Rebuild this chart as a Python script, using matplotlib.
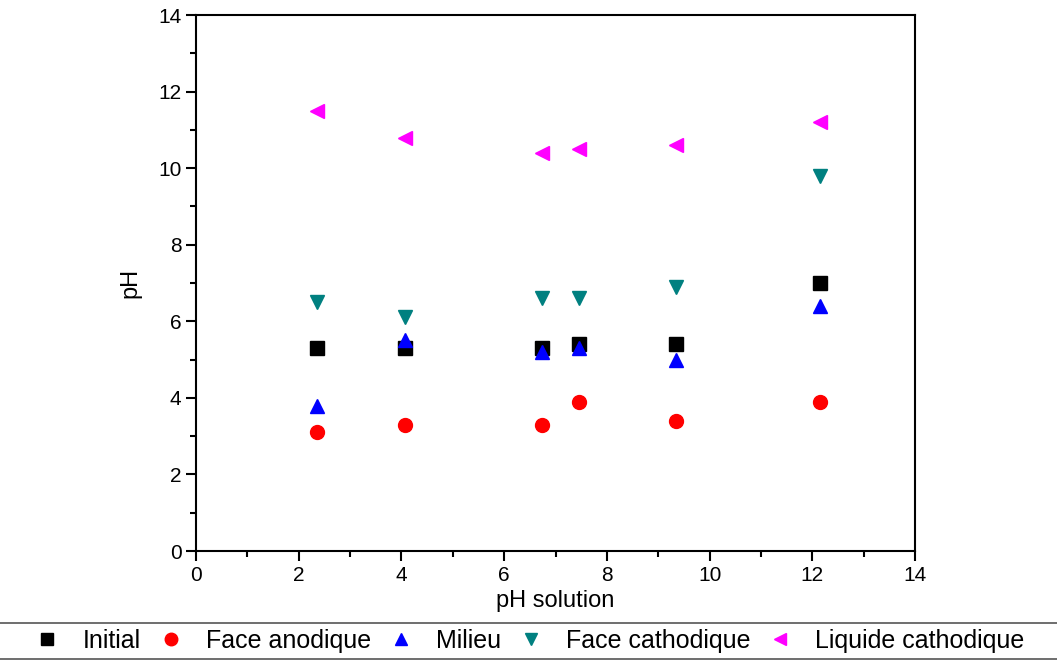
import matplotlib
matplotlib.use("Agg")
import matplotlib.pyplot as plt
from matplotlib.lines import Line2D

plt.rcParams['font.family'] = ['Liberation Sans', 'DejaVu Sans']

# pH of the solution (x)
ph_solution = [2.36, 4.07, 6.74, 7.46, 9.35, 12.15]

# measured pH per location
initial = [5.3, 5.3, 5.3, 5.4, 5.4, 7.0]
face_anodique = [3.1, 3.3, 3.3, 3.9, 3.4, 3.9]
milieu = [3.8, 5.5, 5.2, 5.3, 5.0, 6.4]
face_cathodique = [6.5, 6.1, 6.6, 6.6, 6.9, 9.8]
liquide_cathodique = [11.5, 10.8, 10.4, 10.5, 10.6, 11.2]

labels = ["Initial", "Face anodique", "Milieu", "Face cathodique", "Liquide cathodique"]
series = [initial, face_anodique, milieu, face_cathodique, liquide_cathodique]
markers = ["s", "o", "^", "v", "<"]
colors = ["black", "red", "blue", "#008080", "#ff00ff"]

fig = plt.figure(figsize=(10.57, 6.61), dpi=100)
ax = fig.add_axes([0.1854, 0.1664, 0.8657 - 0.1854, 0.9773 - 0.1664])

for ys, lab, mk, col in zip(series, labels, markers, colors):
    ax.plot(ph_solution, ys, linestyle="none", marker=mk, color=col,
            markersize=10, label=lab)

ax.set_xlim(0, 14)
ax.set_ylim(0, 14)
ax.set_xticks(range(0, 15, 2))
ax.set_yticks(range(0, 15, 2))
ax.set_xticks(range(1, 14, 2), minor=True)
ax.set_yticks(range(1, 14, 2), minor=True)
ax.tick_params(which="major", direction="out", length=7, width=1.5, labelsize=15)
ax.tick_params(which="minor", direction="out", length=4, width=1.5)
for s in ax.spines.values():
    s.set_linewidth(1.5)

ax.set_xlabel("pH solution", fontsize=17, labelpad=4)
ax.set_ylabel("pH", fontsize=17, labelpad=12)

handles, labs = ax.get_legend_handles_labels()
fig.legend(handles, labs, loc="center", bbox_to_anchor=(0.5, 1 - 641 / 661),
           ncol=5, frameon=False, fontsize=18, handletextpad=0.8,
           columnspacing=0.6, handlelength=1.2, markerscale=0.9)

for ypix in (623, 659):
    fig.add_artist(Line2D([0, 1], [1 - ypix / 661] * 2, transform=fig.transFigure,
                          color="#555555", linewidth=1.2))

fig.savefig("out.png", dpi=100)
